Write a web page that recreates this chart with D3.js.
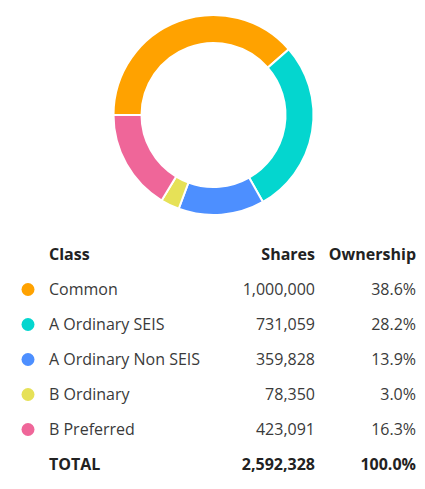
<!DOCTYPE html>
<html lang="en">
<head>
<meta charset="UTF-8">
<title>Share Classes</title>
<script src="https://d3js.org/d3.v7.min.js"></script>
<style>
  body { margin: 0; background: #fff; }
  text { font-family: "Open Sans", sans-serif; }
</style>
</head>
<body>
<script>
  const classes = ["Common", "A Ordinary SEIS", "A Ordinary Non SEIS", "B Ordinary", "B Preferred"];
  const shares = [1000000, 731059, 359828, 78350, 423091];
  const ownership = ["38.6%", "28.2%", "13.9%", "3.0%", "16.3%"];
  const colors = ["#FFA200", "#04D6CF", "#4D8FFF", "#E6E157", "#EF6699"];
  const totalLabel = "TOTAL";
  const totalShares = "2,592,328";
  const totalOwnership = "100.0%";

  const width = 425;
  const height = 489;

  const svg = d3.select("body").append("svg")
    .attr("width", width)
    .attr("height", height);

  // donut
  const pie = d3.pie()
    .sort(null)
    .startAngle(-Math.PI / 2)
    .endAngle(Math.PI * 1.5);

  const arc = d3.arc()
    .innerRadius(72)
    .outerRadius(100);

  svg.append("g")
    .attr("transform", "translate(213.5,115)")
    .selectAll("path")
    .data(pie(shares))
    .join("path")
    .attr("d", arc)
    .attr("fill", (d, i) => colors[i])
    .attr("stroke", "#fff")
    .attr("stroke-width", 2);

  // table
  const y = d3.scalePoint()
    .domain(d3.range(classes.length + 2))
    .range([260, 470]);

  const fmt = d3.format(",");
  const table = svg.append("g").style("font-size", "16px");

  table.append("text").attr("x", 49).attr("y", y(0))
    .attr("font-weight", 700).attr("fill", "#222").text("Class");
  table.append("text").attr("x", 315).attr("y", y(0)).attr("text-anchor", "end")
    .attr("font-weight", 700).attr("fill", "#222").text("Shares");
  table.append("text").attr("x", 416).attr("y", y(0)).attr("text-anchor", "end")
    .attr("font-weight", 700).attr("fill", "#222").text("Ownership");

  const rows = table.selectAll("g.row")
    .data(classes)
    .join("g")
    .attr("class", "row")
    .attr("transform", (d, i) => `translate(0,${y(i + 1)})`);

  rows.append("circle").attr("cx", 28).attr("cy", -5.5).attr("r", 6.5)
    .attr("fill", (d, i) => colors[i]);
  rows.append("text").attr("x", 49).attr("fill", "#3a3a3a").text(d => d);
  rows.append("text").attr("x", 315).attr("text-anchor", "end").attr("fill", "#3a3a3a")
    .text((d, i) => fmt(shares[i]));
  rows.append("text").attr("x", 416).attr("text-anchor", "end").attr("fill", "#3a3a3a")
    .text((d, i) => ownership[i]);

  const ty = y(classes.length + 1);
  table.append("text").attr("x", 49).attr("y", ty)
    .attr("font-weight", 700).attr("fill", "#222").text(totalLabel);
  table.append("text").attr("x", 315).attr("y", ty).attr("text-anchor", "end")
    .attr("font-weight", 700).attr("fill", "#222").text(totalShares);
  table.append("text").attr("x", 416).attr("y", ty).attr("text-anchor", "end")
    .attr("font-weight", 700).attr("fill", "#222").text(totalOwnership);
</script>
</body>
</html>
